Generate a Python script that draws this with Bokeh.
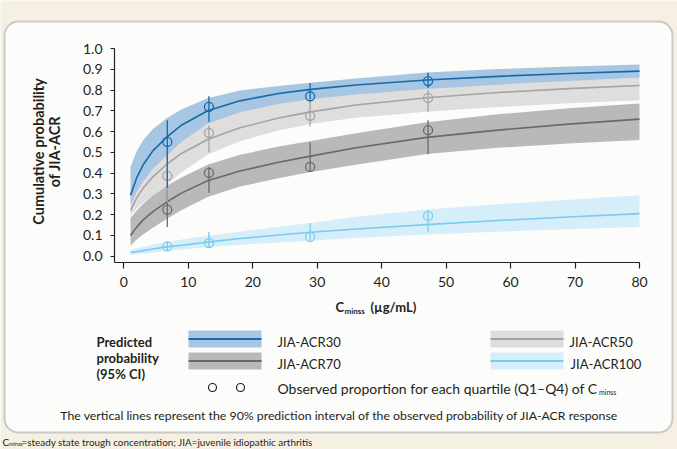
import math
from bokeh.plotting import figure
from bokeh.models import Range1d, FixedTicker, Label, BoxAnnotation, NumeralTickFormatter, ColumnDataSource
from bokeh.embed import file_html
from bokeh.resources import INLINE

# ---------------- data ----------------
conc = [1.04, 2, 3, 4.5, 6.7, 9, 13, 18, 24, 29, 36, 47, 58, 69, 80]

acr30_mid = [0.294, 0.378, 0.440, 0.507, 0.575, 0.632, 0.700, 0.748, 0.783, 0.803, 0.824, 0.848, 0.866, 0.880, 0.891]
acr30_hi = [0.430, 0.506, 0.558, 0.612, 0.665, 0.707, 0.760, 0.798, 0.820, 0.835, 0.856, 0.884, 0.901, 0.913, 0.923]
acr30_lo = [0.245, 0.310, 0.360, 0.420, 0.485, 0.552, 0.638, 0.693, 0.733, 0.756, 0.779, 0.805, 0.826, 0.844, 0.860]

acr50_mid = [0.221, 0.281, 0.328, 0.382, 0.444, 0.496, 0.562, 0.618, 0.665, 0.695, 0.728, 0.763, 0.788, 0.807, 0.822]
acr50_hi = [0.261, 0.341, 0.398, 0.457, 0.519, 0.571, 0.645, 0.700, 0.740, 0.762, 0.788, 0.818, 0.843, 0.862, 0.880]
acr50_lo = [0.195, 0.231, 0.258, 0.292, 0.344, 0.406, 0.490, 0.554, 0.605, 0.637, 0.666, 0.695, 0.718, 0.736, 0.751]

acr70_mid = [0.100, 0.140, 0.175, 0.215, 0.262, 0.305, 0.363, 0.410, 0.452, 0.482, 0.522, 0.572, 0.607, 0.636, 0.660]
acr70_hi = [0.185, 0.220, 0.252, 0.292, 0.340, 0.380, 0.440, 0.488, 0.528, 0.555, 0.592, 0.645, 0.683, 0.712, 0.735]
acr70_lo = [0.050, 0.080, 0.105, 0.137, 0.180, 0.222, 0.285, 0.335, 0.375, 0.405, 0.440, 0.492, 0.522, 0.543, 0.560]

acr100_mid = [0.018, 0.022, 0.027, 0.035, 0.045, 0.053, 0.068, 0.085, 0.102, 0.115, 0.131, 0.152, 0.172, 0.189, 0.205]
acr100_hi = [0.032, 0.038, 0.045, 0.055, 0.068, 0.080, 0.098, 0.118, 0.142, 0.160, 0.190, 0.225, 0.250, 0.272, 0.294]
acr100_lo = [0.006, 0.008, 0.012, 0.018, 0.026, 0.032, 0.043, 0.055, 0.066, 0.075, 0.088, 0.105, 0.118, 0.130, 0.141]

obs_conc = [6.74, 13.2, 28.9, 47.2]
obs30 = [0.550, 0.719, 0.770, 0.843]
obs30_lo = [0.330, 0.647, 0.755, 0.810]
obs30_hi = [0.655, 0.770, 0.834, 0.883]
obs50 = [0.387, 0.594, 0.676, 0.762]
obs50_lo = [0.260, 0.500, 0.625, 0.695]
obs50_hi = [0.500, 0.628, 0.750, 0.800]
obs70 = [0.224, 0.401, 0.430, 0.607]
obs70_lo = [0.141, 0.305, 0.410, 0.491]
obs70_hi = [0.320, 0.430, 0.546, 0.655]
obs100 = [0.047, 0.063, 0.093, 0.194]
obs100_lo = [0.029, 0.040, 0.077, 0.117]
obs100_hi = [0.072, 0.117, 0.160, 0.220]

x_ticks = [0, 10, 20, 30, 40, 50, 60, 70, 80]
y_ticks = [0.0, 0.1, 0.2, 0.3, 0.4, 0.5, 0.6, 0.7, 0.8, 0.9, 1.0]

series = [
    # name, mid, lo, hi, obs, obs_lo, obs_hi, line colour, band colour
    ("JIA-ACR100", acr100_mid, acr100_lo, acr100_hi, obs100, obs100_lo, obs100_hi, "#7ccbee", "#d6eef9"),
    ("JIA-ACR70", acr70_mid, acr70_lo, acr70_hi, obs70, obs70_lo, obs70_hi, "#69696b", "#b9b9bb"),
    ("JIA-ACR50", acr50_mid, acr50_lo, acr50_hi, obs50, obs50_lo, obs50_hi, "#a4a4a4", "#e0dedd"),
    ("JIA-ACR30", acr30_mid, acr30_lo, acr30_hi, obs30, obs30_lo, obs30_hi, "#156aa7", "#a6c6e3"),
]

FONT = "Lato"
INK = "#231f20"
BEIGE = "#f6f0e2"
PANEL = "#fcfcfa"

W, H = 677, 449
# axis box in page pixels
FL, FT, FW, FH = 114, 48, 525, 214
X0, X1 = -1.45, 80.0
Y0, Y1 = -0.0303, 1.0


def dx(px):
    return X0 + (px - FL) * (X1 - X0) / FW


def dy(py):
    return Y1 - (py - FT) * (Y1 - Y0) / FH


# the frame covers the whole canvas; axes are pinned inside it
p = figure(width=W, height=H, output_backend="svg", toolbar_location=None,
           x_range=Range1d(dx(0), dx(W)), y_range=Range1d(dy(H), dy(0)),
           min_border=0)
p.border_fill_color = BEIGE
p.background_fill_color = BEIGE
p.outline_line_color = None
p.grid.visible = False

# rounded white panel
p.add_layout(BoxAnnotation(left=dx(4), right=dx(672), top=dy(21), bottom=dy(432),
                           fill_color=PANEL, fill_alpha=1, line_color="#c9c9c9", line_alpha=1,
                           line_width=2, border_radius=14, level="underlay"))

xa, ya = p.xaxis[0], p.yaxis[0]
xa.fixed_location = Y0
xa.bounds = (X0, X1)
ya.fixed_location = X0
ya.bounds = (Y0, Y1)
for ax in (xa, ya):
    ax.axis_line_color = INK
    ax.axis_line_width = 1.2
    ax.major_tick_line_color = INK
    ax.major_tick_line_width = 1.2
    ax.minor_tick_line_color = None
    ax.major_tick_in = 0
    ax.major_label_text_font = FONT
    ax.major_label_text_font_size = "14px"
    ax.major_label_text_color = INK
xa.ticker = FixedTicker(ticks=x_ticks)
xa.major_tick_out = 6
xa.major_label_standoff = 8
ya.ticker = FixedTicker(ticks=y_ticks)
ya.formatter = NumeralTickFormatter(format="0.0")
ya.major_tick_out = 4
ya.major_label_standoff = 8

for name, mid, lo, hi, o, olo, ohi, lc, bc in series:
    p.varea(x=conc, y1=lo, y2=hi, fill_color=bc, fill_alpha=1)
for name, mid, lo, hi, o, olo, ohi, lc, bc in series:
    p.line(x=conc, y=mid, line_color=lc, line_width=1.6)
for name, mid, lo, hi, o, olo, ohi, lc, bc in series:
    src = ColumnDataSource(dict(x=obs_conc, y=o, lo=olo, hi=ohi))
    p.segment(x0="x", y0="lo", x1="x", y1="hi", source=src, line_color=lc, line_width=1.3)
    p.scatter(x="x", y="y", source=src, marker="circle", size=9, fill_color=None,
              line_color=lc, line_width=1.3)


def lab(px, py, text, size, bold=False, align="left", angle=0.0, color=INK):
    p.add_layout(Label(x=dx(px), y=dy(py), text=text,
                       text_font=FONT, text_font_size=f"{size}px",
                       text_font_style="bold" if bold else "normal",
                       text_align=align, text_baseline="middle", angle=angle,
                       text_color=color))


def box(l, r, t, b, color, radius=0, line=None, lw=1.1):
    p.add_layout(BoxAnnotation(left=dx(l), right=dx(r), top=dy(t), bottom=dy(b),
                               fill_color=color if line is None else None,
                               fill_alpha=1, line_color=line, line_alpha=1, line_width=lw,
                               border_radius=radius, level="annotation"))


# axis titles
lab(38, 151, "Cumulative probability", 14.5, bold=True, align="center", angle=math.pi / 2)
lab(54, 151, "of JIA-ACR", 14.5, bold=True, align="center", angle=math.pi / 2)
lab(335, 306, "C", 13, bold=True)
lab(344, 310, "minss", 8, bold=True)
lab(370, 306, "(µg/mL)", 13, bold=True)

# legend
lab(96, 341, "Predicted", 13, bold=True)
lab(96, 357, "probability", 13, bold=True)
lab(96, 373, "(95% CI)", 13, bold=True)

legend_items = [
    ("JIA-ACR30", "#a6c6e3", "#156aa7", 188, 330, 277),
    ("JIA-ACR70", "#b9b9bb", "#69696b", 188, 352, 277),
    ("JIA-ACR50", "#e0dedd", "#a4a4a4", 490, 330, 569),
    ("JIA-ACR100", "#d6eef9", "#7ccbee", 490, 352, 570),
]
for name, bc, lc, lx, ty, tx in legend_items:
    box(lx, lx + 73, ty, ty + 17, bc)
    box(lx, lx + 73, ty + 7.5, ty + 9.5, lc)
    lab(tx, ty + 11, name, 13)

box(208, 216, 383, 391, None, radius=4, line="#231f20", lw=1.2)
box(236, 244, 383, 391, None, radius=4, line="#231f20", lw=1.2)
lab(277, 387.5, "Observed proportion for each quartile (Q1–Q4) of C", 14)
lab(598.5, 391, "minss", 7)

lab(339, 415, "The vertical lines represent the 90% prediction interval of the observed probability of JIA-ACR response",
    12.3, align="center")

lab(2, 441, "C", 10)
lab(8.5, 443.5, "minss", 5.5)
lab(21, 441, "=steady state trough concentration; JIA=juvenile idiopathic arthritis", 9.9)

open("out.html", "w").write(file_html(p, INLINE))
